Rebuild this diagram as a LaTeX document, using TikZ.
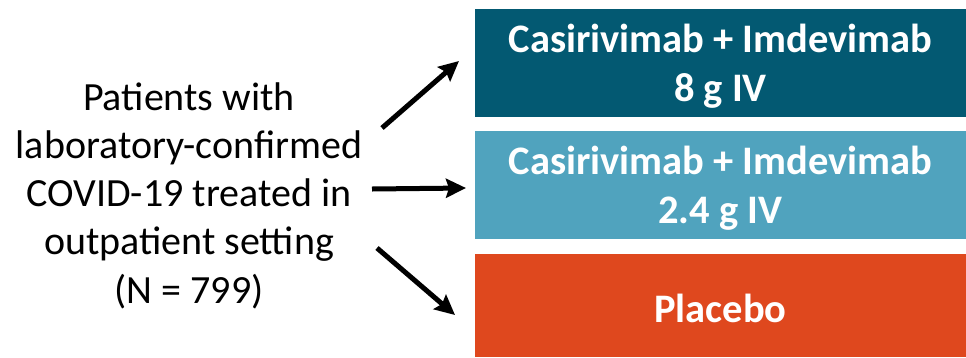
\documentclass[tikz,border=0pt]{standalone}
\usepackage{fontspec}
\setmainfont{Carlito}
\usetikzlibrary{arrows.meta}
\definecolor{darkteal}{HTML}{035972}
\definecolor{lightteal}{HTML}{50A3BE}
\definecolor{placeboorange}{HTML}{DF481E}
\tikzset{
  armbox/.style={rectangle, inner sep=0pt, minimum width=491pt, draw=none},
  armtext/.style={inner sep=0pt, text=white, align=center,
    font=\fontsize{40.5}{49}\selectfont\bfseries},
  arrowline/.style={line width=5pt, -{Stealth[length=20pt,width=19pt,inset=3pt]}},
}
\begin{document}
\begin{tikzpicture}[x=1pt,y=-1pt]
\useasboundingbox (0,0) rectangle (966,357);
\fill[white] (0,0) rectangle (966,357);
\node[armbox, fill=darkteal, minimum height=108pt] (arm1box) at (720.5,63) {};
\node[armbox, fill=lightteal, minimum height=108pt] (arm2box) at (720.5,185) {};
\node[armbox, fill=placeboorange, minimum height=103pt] (arm3box) at (720.5,305.5) {};
\node[armtext] (arm1) at (720.5,66.5) {Casirivimab + Imdevimab\\8 g IV};
\node[armtext] (arm2) at (720.5,188.5) {Casirivimab + Imdevimab\\2.4 g IV};
\node[armtext] (arm3) at (720.5,308) {Placebo};
\node[align=center, font=\fontsize{40}{48.3}\selectfont, inner sep=0pt] (pop) at (189,195.5)
  {Patients with\\laboratory-confirmed\\COVID-19 treated in\\outpatient setting\\(N = 799)};
\coordinate (s1) at (382,128);
\coordinate (t1) at (459,61);
\coordinate (s2) at (372,189);
\coordinate (t2) at (466,188);
\coordinate (s3) at (377,248);
\coordinate (t3) at (455,315);
\draw[arrowline] (s1) -- (t1);
\draw[arrowline] (s2) -- (t2);
\draw[arrowline] (s3) -- (t3);
\end{tikzpicture}
\end{document}
